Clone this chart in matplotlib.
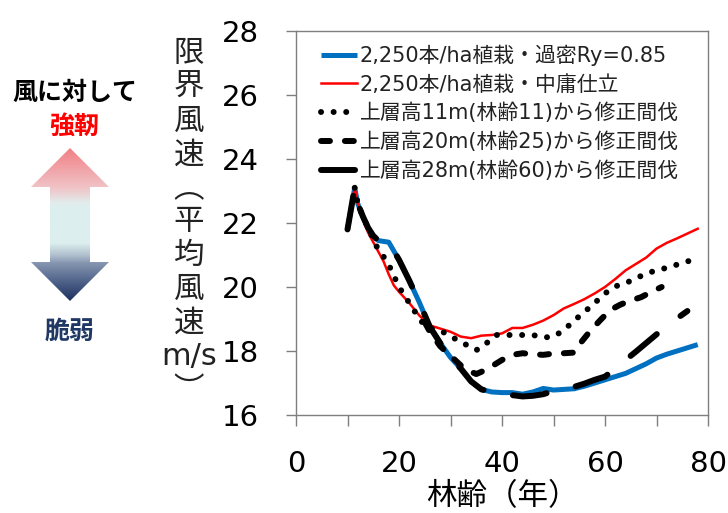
import numpy as np
import matplotlib
matplotlib.use("Agg")
import matplotlib.pyplot as plt
from matplotlib.patches import Polygon
from matplotlib.colors import LinearSegmentedColormap

plt.rcParams['font.family'] = ['DejaVu Sans', 'Noto Sans CJK JP']

# ---------------- data ----------------
years_blue = [10, 11.4, 12, 13, 14, 15, 16, 18, 20, 22, 24, 26, 28, 30, 32, 34, 36, 38, 40,
              42, 44, 46, 48, 50, 52, 54, 56, 58, 60, 62, 64, 66, 68, 70, 72, 74, 76, 78]
vals_blue = [21.8, 23.1, 22.6, 22.2, 21.85, 21.6, 21.45, 21.4, 20.85, 20.2, 19.5, 18.75, 18.25,
             17.8, 17.45, 17.05, 16.8, 16.72, 16.7, 16.7, 16.65, 16.72, 16.83, 16.78, 16.8,
             16.82, 16.9, 17.0, 17.1, 17.2, 17.3, 17.45, 17.6, 17.78, 17.9, 18.0, 18.1, 18.2]

years_red = [10, 11.4, 12, 13, 14, 15, 16, 17, 18, 19, 20, 22, 24, 26, 28, 30, 32, 34, 36, 38, 40,
             42, 44, 46, 48, 50, 52, 54, 56, 58, 60, 62, 64, 66, 68, 70, 72, 74, 76, 78]
vals_red = [21.8, 23.1, 22.6, 22.1, 21.7, 21.4, 21.1, 20.8, 20.4, 20.05, 19.85, 19.5, 19.1, 18.8,
            18.7, 18.6, 18.45, 18.4, 18.48, 18.5, 18.55, 18.72, 18.72, 18.82, 18.95, 19.12,
            19.33, 19.47, 19.62, 19.8, 20.0, 20.25, 20.52, 20.72, 20.92, 21.2, 21.38, 21.52,
            21.67, 21.82]

years_11 = [11.4, 12, 13, 14, 15, 16, 17, 18, 19, 20, 21, 22, 23, 24, 25, 26, 28, 30, 32, 34, 35,
            36, 37, 38, 39, 42, 46, 48, 50, 52, 54, 56, 58, 60, 62, 64, 66, 68, 70, 72, 74, 76, 78]
vals_11 = [23.1, 22.6, 22.2, 21.85, 21.5, 21.15, 20.95, 20.7, 20.35, 20.0, 19.75, 19.5, 19.25,
           19.0, 18.8, 18.7, 18.65, 18.45, 18.3, 18.1, 18.03, 18.1, 18.24, 18.42, 18.5, 18.5,
           18.5, 18.42, 18.45, 18.65, 18.95, 19.22, 19.5, 19.8, 20.02, 20.12, 20.27, 20.42,
           20.52, 20.6, 20.7, 20.8, 20.88]

years_25 = [25, 26, 28, 30, 32, 34, 35, 36, 38, 40, 42, 44, 46, 48, 50, 52, 54, 55, 57, 59, 61,
            63, 65, 67, 69, 71]
vals_25 = [18.9, 18.6, 18.15, 17.85, 17.55, 17.35, 17.28, 17.35, 17.52, 17.72, 17.88, 17.93,
           17.9, 17.88, 17.92, 17.93, 17.95, 18.2, 18.6, 18.95, 19.28, 19.45, 19.58, 19.68,
           19.85, 20.0]

years_60 = [10, 11.4, 12, 13, 14, 15, 16, 18, 20, 22, 24, 26, 28, 30, 32, 34, 36, 38, 40, 42,
            44, 46, 48, 50, 52, 54, 56, 58, 60, 62, 64, 66, 68, 70, 72, 74, 76]
vals_60 = [21.8, 23.1, 22.6, 22.2, 21.85, 21.6, 21.45, 21.4, 20.85, 20.2, 19.5, 18.75, 18.25,
           17.8, 17.45, 17.05, 16.8, 16.72, 16.68, 16.62, 16.58, 16.6, 16.65, 16.75, 16.82,
           16.88, 16.98, 17.1, 17.2, 17.45, 17.72, 17.98, 18.25, 18.52, 18.78, 19.02, 19.25]

series_labels = ["2,250本/ha植栽・過密Ry=0.85", "2,250本/ha植栽・中庸仕立",
                 "上層高11m(林齢11)から修正間伐", "上層高20m(林齢25)から修正間伐",
                 "上層高28m(林齢60)から修正間伐"]
x_ticks = [0, 20, 40, 60, 80]
y_ticks = [16, 18, 20, 22, 24, 26, 28]
x_label = "林齢（年）"
y_label_chars = ["限", "界", "風", "速", "︵", "平", "均", "風", "速", "m/s", "︶"]
side_title = "風に対して"
top_word = "強靭"
bottom_word = "脆弱"

# ---------------- figure ----------------
W, H = 728, 513
fig = plt.figure(figsize=(W / 100, H / 100), dpi=100)
fig.patch.set_facecolor("white")

x0, x1, yt, yb = 296, 708, 31, 415
ax = fig.add_axes([x0 / W, (H - yb) / H, (x1 - x0) / W, (yb - yt) / H])

ax.plot(years_blue, vals_blue, color="#0070C0", lw=3.6, solid_capstyle="butt",
        label=series_labels[0], zorder=2)
ax.plot(years_red, vals_red, color="#FF0000", lw=1.8, label=series_labels[1], zorder=3)
l11, = ax.plot(years_11, vals_11, color="black", lw=4.3, label=series_labels[2], zorder=4,
               dash_capstyle="round")
l11.set_dashes([0.01, 2.1])
l25, = ax.plot(years_25, vals_25, color="black", lw=4.3, label=series_labels[3], zorder=5,
               dash_capstyle="round")
l25.set_dashes([1.5, 2.5])
l60, = ax.plot(years_60, vals_60, color="black", lw=4.3, label=series_labels[4], zorder=6,
               dash_capstyle="round", solid_capstyle="round")
l60.set_dashes([5.7, 5.0])

ax.set_xlim(0, 80)
ax.set_ylim(16, 28)
ax.set_xticks(x_ticks)
ax.set_xticks([10, 30, 50, 70], minor=True)
ax.set_yticks(y_ticks)
ax.tick_params(axis="both", which="both", direction="out", color="#7f7f7f", width=1)
ax.tick_params(axis="x", which="both", length=8, pad=17, labelsize=21)
ax.tick_params(axis="y", which="both", length=7.5, pad=19, labelsize=21)
for s in ax.spines.values():
    s.set_color("#7f7f7f")
    s.set_linewidth(1.0)

leg = ax.legend(loc="upper left", bbox_to_anchor=((321 - x0) / (x1 - x0), (yb - 45) / (yb - yt)),
                frameon=False, fontsize=15, handlelength=1.75, handletextpad=0.1,
                borderpad=0, borderaxespad=0, labelspacing=0.4)
for t in leg.get_texts():
    t.set_color("#222222")

ax.set_xlabel(x_label, fontsize=22, labelpad=3)

# ---------------- overlay for side annotations ----------------
ov = fig.add_axes([0, 0, 1, 1], zorder=-1)
ov.set_xlim(0, W)
ov.set_ylim(H, 0)
ov.axis("off")
ov.patch.set_alpha(0)

fig.text(189 / W, 1 - 222 / H, "\n".join(y_label_chars), ha="center", va="center",
         fontsize=22, linespacing=1.2, color="#222222")

ov.text(75, 93, side_title, ha="center", va="center", fontsize=18, fontweight="bold",
        color="black")
ov.text(74, 127, top_word, ha="center", va="center", fontsize=18, fontweight="bold",
        color="#FF0000")
ov.text(70, 332, bottom_word, ha="center", va="center", fontsize=18, fontweight="bold",
        color="#1F3864")

arrow_pts = [(70, 148), (31, 187), (50, 187), (50, 262), (31, 262), (70, 301),
             (109, 262), (90, 262), (90, 187), (109, 187)]
poly = Polygon(arrow_pts, closed=True, facecolor="none", edgecolor="none")
ov.add_patch(poly)
cmap = LinearSegmentedColormap.from_list("arr", [
    (0.0, "#F27E84"), (0.26, "#F0C3C6"), (0.36, "#E2ECEC"), (0.4, "#DCEFEF"),
    (0.62, "#DCEEEE"), (0.7, "#AFBFCD"), (0.75, "#8595B0"), (0.87, "#4F6289"),
    (1.0, "#1C305F")])
grad = np.linspace(0, 1, 256).reshape(-1, 1)
im = ov.imshow(grad, cmap=cmap, extent=(28, 112, 302, 147), aspect="auto",
               origin="upper", interpolation="bilinear")
im.set_clip_path(poly)

fig.savefig("out.png", dpi=100, facecolor="white")
